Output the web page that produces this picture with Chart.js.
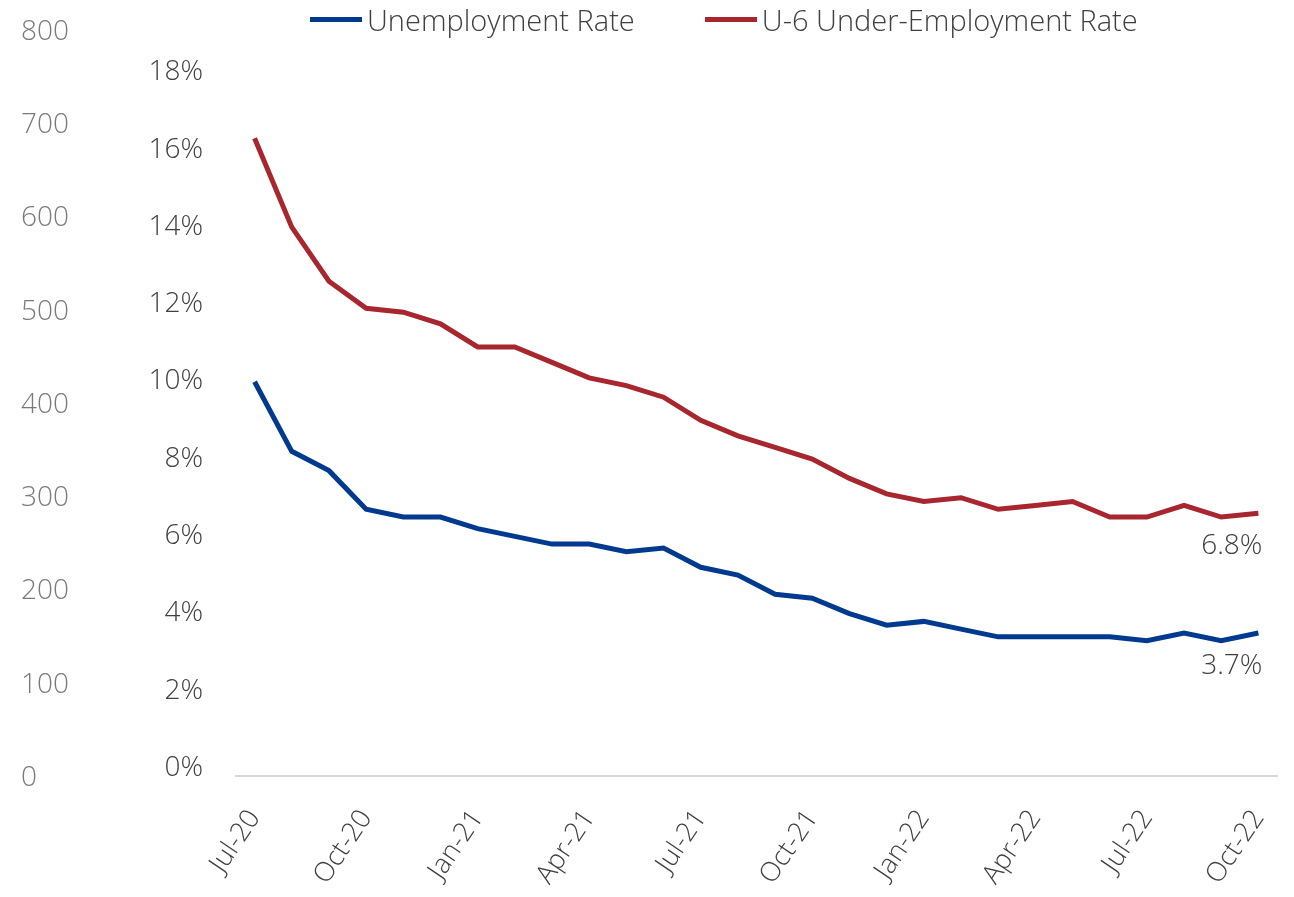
<!DOCTYPE html>
<html>
<head>
<meta charset="utf-8">
<script src="https://cdn.jsdelivr.net/npm/chart.js@4"></script>
<style>
  body { margin: 0; background: #fff; font-family: 'Open Sans', 'Noto Sans', sans-serif; }
  #wrap { position: relative; width: 1294px; height: 897px; }
  #legend { position: absolute; left: 310px; top: 0; height: 38px; display: flex; align-items: center; gap: 70px; }
  .item { display: flex; align-items: center; font-size: 29px; font-weight: 300; color: #404040; }
  .swatch { width: 52px; height: 5px; margin-right: 5px; }
</style>
</head>
<body>
<div id="wrap">
  <canvas id="rateChart"></canvas>
  <div id="legend"></div>
</div>
<script>
// Monthly series, Jul-20 .. Oct-22
const months = ['Jul-20', 'Aug-20', 'Sep-20', 'Oct-20', 'Nov-20', 'Dec-20',
    'Jan-21', 'Feb-21', 'Mar-21', 'Apr-21', 'May-21', 'Jun-21',
    'Jul-21', 'Aug-21', 'Sep-21', 'Oct-21', 'Nov-21', 'Dec-21',
    'Jan-22', 'Feb-22', 'Mar-22', 'Apr-22', 'May-22', 'Jun-22',
    'Jul-22', 'Aug-22', 'Sep-22', 'Oct-22'];
const unemployment = [10.2, 8.4, 7.9, 6.9, 6.7, 6.7, 6.4, 6.2, 6.0, 6.0, 5.8, 5.9,
    5.4, 5.2, 4.7, 4.6, 4.2, 3.9, 4.0, 3.8, 3.6, 3.6, 3.6, 3.6, 3.5, 3.7, 3.5, 3.7];
const underEmployment = [16.5, 14.2, 12.8, 12.1, 12.0, 11.7, 11.1, 11.1, 10.7, 10.3, 10.1, 9.8,
    9.2, 8.8, 8.5, 8.2, 7.7, 7.3, 7.1, 7.2, 6.9, 7.0, 7.1, 6.7, 6.7, 7.0, 6.7, 6.8];
const pctTicks = [0, 2, 4, 6, 8, 10, 12, 14, 16, 18];
const countTicks = [0, 100, 200, 300, 400, 500, 600, 700, 800];

const BLUE = '#003A8F';
const RED = '#A8262E';
const FONT = "'Open Sans', 'Noto Sans', sans-serif";

// value label under the last point of each line
const endLabels = {
    id: 'endLabels',
    afterDatasetsDraw(chart) {
        const ctx = chart.ctx;
        ctx.save();
        ctx.font = '300 28px ' + FONT;
        ctx.fillStyle = '#404040';
        ctx.textAlign = 'right';
        ctx.textBaseline = 'middle';
        chart.data.datasets.forEach((ds, i) => {
            const meta = chart.getDatasetMeta(i);
            const pt = meta.data[meta.data.length - 1];
            const v = ds.data[ds.data.length - 1];
            ctx.fillText(v.toFixed(1) + '%', pt.x + 4, pt.y + 33);
        });
        ctx.restore();
    }
};

// the y axes should not push the plot area in; labels may overhang
function fixWidth(w) {
    return s => { s.width = w; s.paddingTop = 0; s.paddingBottom = 0; };
}

const chart = new Chart(document.getElementById('rateChart'), {
    type: 'line',
    data: {
        labels: months,
        datasets: [{
            label: 'Unemployment Rate',
            data: unemployment,
            borderColor: BLUE,
            backgroundColor: BLUE,
            borderWidth: 5,
            pointRadius: 0,
            tension: 0,
            yAxisID: 'y'
        }, {
            label: 'U-6 Under-Employment Rate',
            data: underEmployment,
            borderColor: RED,
            backgroundColor: RED,
            borderWidth: 5,
            pointRadius: 0,
            tension: 0,
            yAxisID: 'y'
        }]
    },
    options: {
        responsive: true,
        maintainAspectRatio: false,
        animation: false,
        layout: { padding: { left: 21, right: 17, top: 30, bottom: 0 } },
        plugins: {
            legend: { display: false },
            tooltip: { enabled: false }
        },
        scales: {
            x: {
                offset: true,
                grid: { display: false },
                border: { display: true, color: '#d9d9d9', width: 2 },
                afterFit: s => { s.height = 121; s.paddingLeft = 0; s.paddingRight = 0; },
                ticks: {
                    autoSkip: false,
                    minRotation: 56,
                    maxRotation: 56,
                    padding: 20,
                    color: '#404040',
                    font: { family: FONT, size: 27, weight: '300' },
                    callback: (v, i) => i % 3 === 0 ? months[i] : ''
                }
            },
            count: {
                position: 'left',
                weight: 2,
                min: 0,
                max: 800,
                grid: { display: false },
                border: { display: false },
                afterBuildTicks: s => { s.ticks = countTicks.map(v => ({ value: v })); },
                afterFit: fixWidth(115),
                ticks: {
                    crossAlign: 'far',
                    labelOffset: 2,
                    color: '#7a7a7a',
                    font: { family: FONT, size: 28, weight: '300' }
                }
            },
            y: {
                position: 'left',
                weight: 1,
                min: 0,
                max: 19.3,
                grid: { display: false },
                border: { display: false },
                afterBuildTicks: s => { s.ticks = pctTicks.map(v => ({ value: v })); },
                afterFit: fixWidth(100),
                ticks: {
                    padding: 25,
                    labelOffset: -8,
                    color: '#404040',
                    font: { family: FONT, size: 28, weight: '300' },
                    callback: v => v + '%'
                }
            }
        }
    },
    plugins: [endLabels]
});

// legend built from the datasets
const legend = document.getElementById('legend');
chart.data.datasets.forEach(ds => {
    const item = document.createElement('div');
    item.className = 'item';
    const sw = document.createElement('span');
    sw.className = 'swatch';
    sw.style.background = ds.borderColor;
    item.appendChild(sw);
    item.appendChild(document.createTextNode(ds.label));
    legend.appendChild(item);
});
</script>
</body>
</html>
